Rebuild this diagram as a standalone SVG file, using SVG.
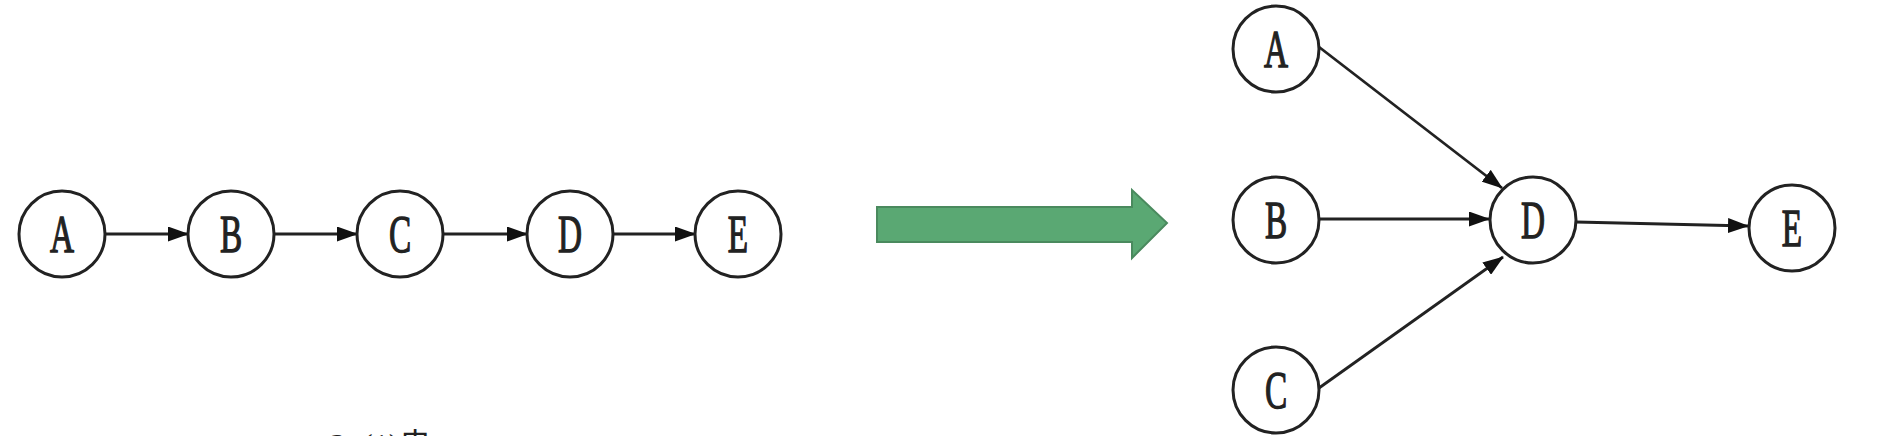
<svg xmlns="http://www.w3.org/2000/svg" width="1884" height="436" viewBox="0 0 1884 436">
<style>
.node circle{fill:#fff;stroke:#222;stroke-width:3}
.node text{font-family:"Liberation Serif","DejaVu Serif",serif;font-size:52px;fill:#222;stroke:#222;stroke-width:1.3;text-anchor:middle}
.edge{stroke:#222;stroke-width:2.8;fill:none;marker-end:url(#ah)}
</style>
<defs>
<marker id="ah" markerUnits="userSpaceOnUse" markerWidth="21" markerHeight="15" refX="20" refY="7.5" orient="auto">
<path d="M0,0 L21,7.5 L0,15 z" fill="#111"/>
</marker>
</defs>
<rect width="1884" height="436" fill="#fff"/>
<g id="connectors">
<line class="edge" x1="105" y1="234" x2="188" y2="234"/>
<line class="edge" x1="274" y1="234" x2="357" y2="234"/>
<line class="edge" x1="443" y1="234" x2="527" y2="234"/>
<line class="edge" x1="613" y1="234" x2="695" y2="234"/>
<line class="edge" x1="1319" y1="47" x2="1502" y2="188"/>
<line class="edge" x1="1319" y1="219" x2="1489" y2="219"/>
<line class="edge" x1="1319" y1="388" x2="1503" y2="257"/>
<line class="edge" x1="1576" y1="222" x2="1748" y2="226"/>
</g>
<g id="left-A" class="node"><circle cx="62" cy="234" r="43"/><text transform="translate(62,252) scale(0.64,1)">A</text></g>
<g id="left-B" class="node"><circle cx="231" cy="234" r="43"/><text transform="translate(231,252) scale(0.64,1)">B</text></g>
<g id="left-C" class="node"><circle cx="400" cy="234" r="43"/><text transform="translate(400,252) scale(0.64,1)">C</text></g>
<g id="left-D" class="node"><circle cx="570" cy="234" r="43"/><text transform="translate(570,252) scale(0.64,1)">D</text></g>
<g id="left-E" class="node"><circle cx="738" cy="234" r="43"/><text transform="translate(738,252) scale(0.64,1)">E</text></g>
<g id="big-arrow"><path d="M877,207 L1132,207 L1132,190 L1167,223 L1132,258 L1132,242 L877,242 z" fill="#5aa873" stroke="#4a8a5e" stroke-width="2"/></g>
<g id="right-A" class="node"><circle cx="1276" cy="49" r="43"/><text transform="translate(1276,67) scale(0.64,1)">A</text></g>
<g id="right-B" class="node"><circle cx="1276" cy="220" r="43"/><text transform="translate(1276,238) scale(0.64,1)">B</text></g>
<g id="right-C" class="node"><circle cx="1276" cy="390" r="43"/><text transform="translate(1276,408) scale(0.64,1)">C</text></g>
<g id="right-D" class="node"><circle cx="1533" cy="220" r="43"/><text transform="translate(1533,238) scale(0.64,1)">D</text></g>
<g id="right-E" class="node"><circle cx="1792" cy="228" r="43"/><text transform="translate(1792,246) scale(0.64,1)">E</text></g>
<text x="330" y="456" font-family="'Liberation Serif','Noto Sans CJK SC',serif" font-size="32" fill="#222">2. (1)串</text>
</svg>
